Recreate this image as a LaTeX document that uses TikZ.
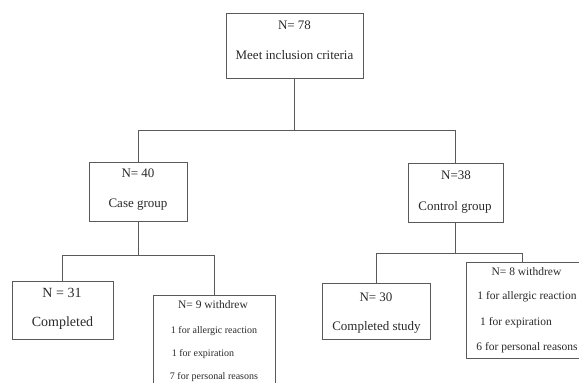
\documentclass[tikz,border=0pt]{standalone}
\usepackage{fontspec}
\setmainfont{Liberation Serif}
\definecolor{linegray}{HTML}{5A5A5A}
\definecolor{textgray}{HTML}{2A2A2A}
\begin{document}
\begin{tikzpicture}[x=1pt,y=-1pt,
  box/.style={draw=linegray, line width=0.9pt, fill=white, inner sep=0pt},
  conn/.style={draw=linegray, line width=0.9pt},
  big/.style={text=textgray, inner sep=0pt, font=\fontsize{13}{15}\selectfont},
  bigger/.style={text=textgray, inner sep=0pt, font=\fontsize{14}{16}\selectfont},
  mid/.style={text=textgray, inner sep=0pt, font=\fontsize{11.5}{13}\selectfont},
  small/.style={text=textgray, inner sep=0pt, font=\fontsize{10}{12}\selectfont}]
\useasboundingbox (0,0) rectangle (579,383);
% boxes
\node[box, minimum width=137pt, minimum height=65pt] (top) at (294.5,45.5) {};
\node[box, minimum width=98pt, minimum height=59pt] (case) at (138,191.5) {};
\node[box, minimum width=95pt, minimum height=59pt] (ctrl) at (455.5,192.5) {};
\node[box, minimum width=101pt, minimum height=58pt] (comp1) at (62.5,310) {};
\node[box, minimum width=122pt, minimum height=91pt] (wd1) at (214,340.5) {};
\node[box, minimum width=108pt, minimum height=56pt] (comp2) at (376,311) {};
\node[box, minimum width=113pt, minimum height=96pt] (wd2) at (522.5,310) {};
% texts
\node[big] (t1) at (294.5,25) {N= 78};
\node[big] (t2) at (294.5,55) {Meet inclusion criteria};
\node[big] (c1) at (138,173) {N= 40};
\node[big] (c2) at (138,205) {Case group};
\node[big] (k1) at (456,175) {N=38};
\node[big] (k2) at (455,207) {Control group};
\node[bigger] (p1) at (62,293) {N = 31};
\node[bigger] (p2) at (62.5,323) {Completed};
\node[mid] (w1) at (213,305) {N= 9 withdrew};
\node[small] (w2) at (214,331) {1 for allergic reaction};
\node[small] (w3) at (203,354) {1 for expiration};
\node[small] (w4) at (214,377) {7 for personal reasons};
\node[big] (q1) at (376,297) {N= 30};
\node[big] (q2) at (376.5,327) {Completed study};
\node[mid] (v1) at (526.5,272) {N= 8 withdrew};
\node[mid] (v2) at (527,297) {1 for allergic reaction};
\node[mid] (v3) at (516,323) {1 for expiration};
\node[mid] (v4) at (527,348) {6 for personal reasons};
% connectors
\coordinate (h0) at (0,130);
\coordinate (h1) at (0,255);
\coordinate (h2) at (0,253);
\draw[conn] (top.south) -- (top.south |- h0);
\draw[conn] (case.north) -- (case.north |- h0) -- (ctrl.north |- h0) -- (ctrl.north);
\draw[conn] (case.south) -- (case.south |- h1);
\draw[conn] (comp1.north) -- (comp1.north |- h1) -- (wd1.north |- h1) -- (wd1.north);
\draw[conn] (ctrl.south) -- (ctrl.south |- h2);
\draw[conn] (comp2.north) -- (comp2.north |- h2) -- (wd2.north |- h2) -- (wd2.north);
\end{tikzpicture}
\end{document}
